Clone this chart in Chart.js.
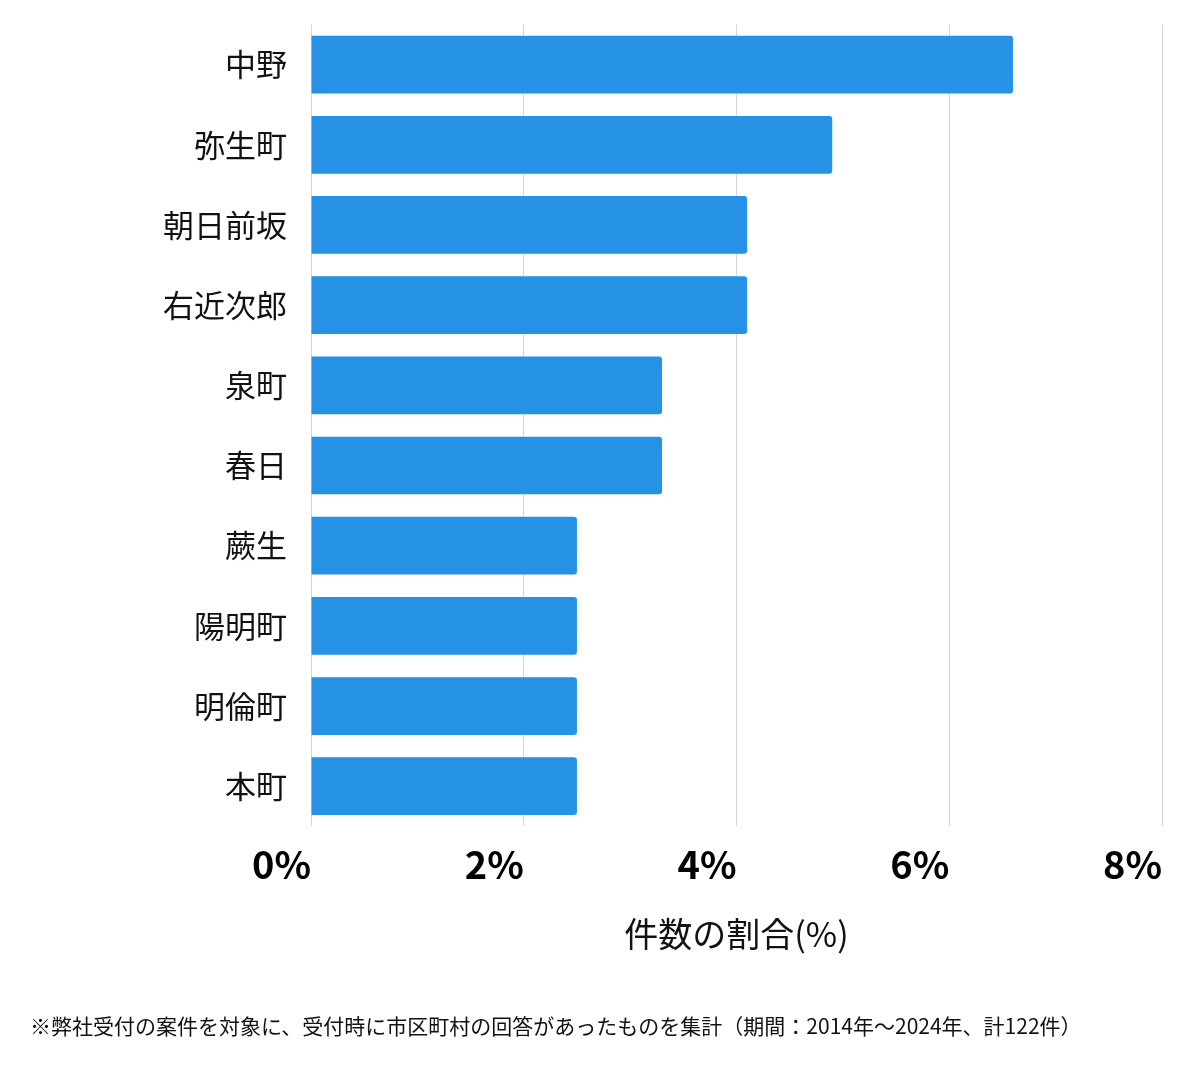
<!DOCTYPE html>
<html lang="ja">
<head>
<meta charset="utf-8">
<script src="https://cdn.jsdelivr.net/npm/chart.js@4.4.1/dist/chart.umd.min.js"></script>
<style>
  html, body { margin: 0; padding: 0; background: #fff; }
  #wrap { width: 1200px; height: 1069px; }
</style>
</head>
<body>
<div id="wrap"><canvas id="chart-canvas" width="1200" height="1069"></canvas></div>
<script>
// 町名ごとの件数の割合 (%)
const areas = ['中野', '弥生町', '朝日前坂', '右近次郎', '泉町', '春日', '蕨生', '陽明町', '明倫町', '本町'];
const shares = [6.6, 4.9, 4.1, 4.1, 3.3, 3.3, 2.5, 2.5, 2.5, 2.5];
const xTicks = [0, 2, 4, 6, 8];
const axisTitle = '件数の割合(%)';
const note = '※弊社受付の案件を対象に、受付時に市区町村の回答があったものを集計（期間：2014年〜2024年、計122件）';

const jpFont = '"Noto Sans CJK JP", "Noto Sans", sans-serif';

const ctx = document.querySelector('#chart-canvas').getContext('2d');
const chart = new Chart(ctx, {
  type: 'bar',
  data: {
    labels: areas,
    datasets: [{
      data: shares,
      backgroundColor: '#2592e5',
      borderRadius: 3,
      borderSkipped: 'start'
    }]
  },
  options: {
    indexAxis: 'y',
    responsive: false,
    animation: false,
    layout: { padding: { top: 24.5, left: 30, right: 38, bottom: 20 } },
    plugins: {
      legend: { display: false },
      tooltip: { enabled: false },
      title: {
        display: true,
        position: 'bottom',
        align: 'start',
        text: note,
        color: '#111',
        font: { family: jpFont, size: 21, weight: 'normal' },
        padding: 10
      }
    },
    scales: {
      x: {
        min: 0,
        max: 8,
        afterBuildTicks: s => { s.ticks = xTicks.map(v => ({ value: v })); },
        afterFit: s => { s.height = 177.5; },
        grid: { color: '#d6d6d6', lineWidth: 1, drawTicks: false },
        border: { display: false },
        ticks: {
          align: 'end',
          padding: 15,
          color: '#000',
          font: { family: jpFont, size: 38, weight: 'bold' },
          callback: v => v + '%'
        },
        title: {
          display: true,
          text: axisTitle,
          color: '#111',
          font: { family: jpFont, size: 34, weight: 'normal' },
          padding: { top: 0, bottom: 49.5 }
        }
      },
      y: {
        afterFit: s => {
          s.width = 281;
          s.paddingTop = 0;
          s.paddingBottom = 0;
        },
        grid: { display: false, drawTicks: false },
        border: { display: false },
        ticks: {
          padding: 24,
          color: '#111',
          font: { family: jpFont, size: 31, weight: 'normal' }
        }
      }
    }
  }
});
</script>
</body>
</html>
